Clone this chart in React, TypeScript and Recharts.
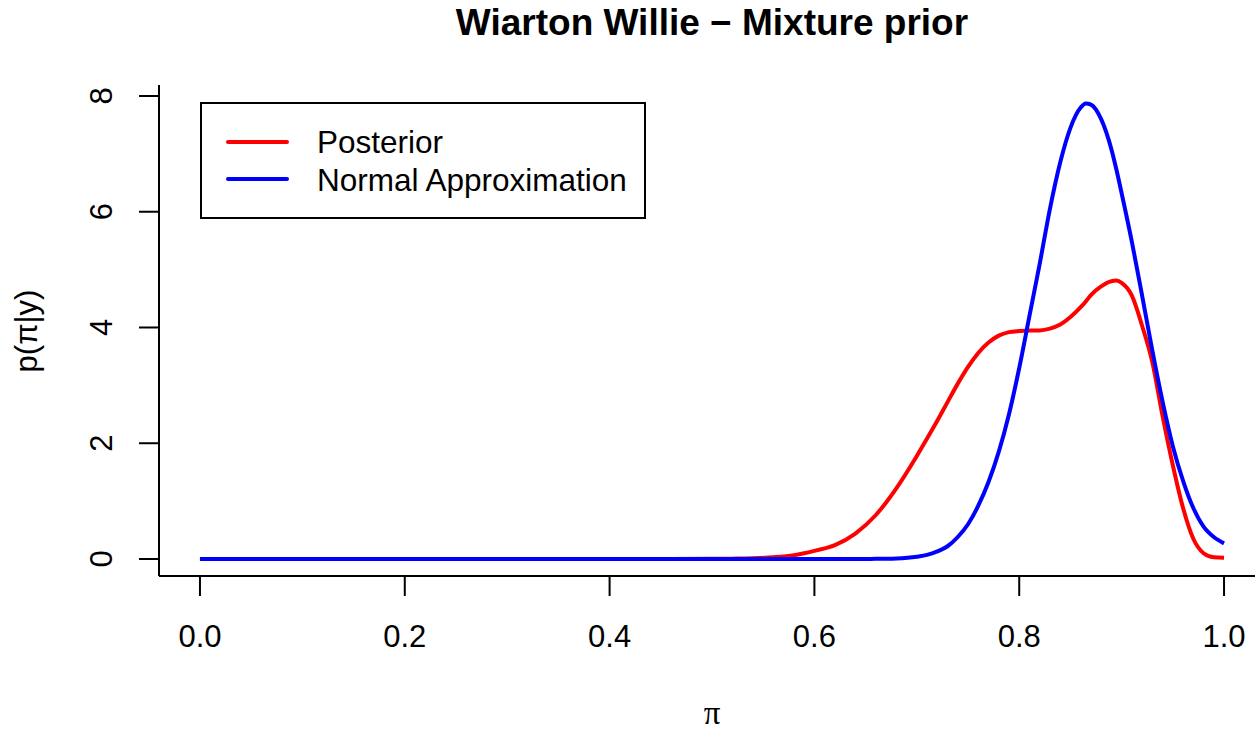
import { LineChart, Line, XAxis, YAxis } from 'recharts'

// pi grid shared by both curves
const PI_GRID = [
  0, 0.1, 0.2, 0.3, 0.4, 0.45, 0.5, 0.52, 0.54, 0.56, 0.58, 0.6, 0.62, 0.64, 0.66, 0.68,
  0.7, 0.71, 0.72, 0.73, 0.74, 0.75, 0.76, 0.77, 0.78, 0.79, 0.8, 0.81, 0.82, 0.83, 0.84,
  0.85, 0.86, 0.865, 0.87, 0.88, 0.89, 0.895, 0.9, 0.91, 0.92, 0.93, 0.94, 0.95, 0.96,
  0.97, 0.98, 0.99, 1.0,
]

const POSTERIOR = [
  0, 0, 0, 0, 0, 0.001, 0.003, 0.006, 0.012, 0.03, 0.065, 0.14, 0.24, 0.44, 0.76, 1.22,
  1.78, 2.08, 2.39, 2.71, 3.03, 3.32, 3.56, 3.74, 3.86, 3.92, 3.94, 3.95, 3.95, 3.98, 4.05,
  4.18, 4.35, 4.45, 4.56, 4.71, 4.8, 4.81, 4.77, 4.55, 4.03, 3.4, 2.47, 1.62, 0.88,
  0.35, 0.1, 0.03, 0.02,
]

const NORMAL_APPROX = [
  0, 0, 0, 0, 0, 0, 0, 0, 0, 0, 0, 0, 0, 0, 0.002, 0.01,
  0.04, 0.07, 0.13, 0.22, 0.38, 0.6, 0.92, 1.33, 1.85, 2.5, 3.3, 4.2, 5.1, 6.05, 6.85,
  7.45, 7.8, 7.87, 7.85, 7.6, 7.08, 6.72, 6.32, 5.48, 4.55, 3.6, 2.72, 1.95, 1.35,
  0.88, 0.56, 0.38, 0.27,
]

const X_TICKS = [0, 0.2, 0.4, 0.6, 0.8, 1.0]
const Y_TICKS = [0, 2, 4, 6, 8]

const data = PI_GRID.map((pi, i) => ({ pi, posterior: POSTERIOR[i], normal: NORMAL_APPROX[i] }))

const FONT = '"Liberation Sans", Arial, Helvetica, sans-serif'

const XTick = ({ x, y, payload }: any) => (
  <text x={x} y={y} dy="0.71em" textAnchor="middle" fontSize={31} fontFamily={FONT} fill="#000">
    {payload.value.toFixed(1)}
  </text>
)

const YTick = ({ x, y, payload }: any) => (
  <text x={x} y={y} transform={`rotate(-90, ${x}, ${y})`} textAnchor="middle" fontSize={31} fontFamily={FONT} fill="#000">
    {payload.value}
  </text>
)

export default function App() {
  return (
    <div style={{ position: 'absolute', left: 0, top: 0, width: 1255, height: 732, overflow: 'hidden', background: '#fff' }}>
      <LineChart width={1300} height={732} data={data} margin={{ top: 85, right: 35, left: 99, bottom: 76 }}>
        <XAxis
          dataKey="pi"
          type="number"
          domain={[-0.04, 1.04]}
          ticks={X_TICKS}
          height={80}
          tickSize={20}
          tickMargin={29}
          tick={<XTick />}
          axisLine={{ stroke: '#000', strokeWidth: 2 }}
          tickLine={{ stroke: '#000', strokeWidth: 2 }}
          allowDataOverflow
        />
        <XAxis
          xAxisId="top"
          dataKey="pi"
          type="number"
          orientation="top"
          domain={[-0.04, 1.04]}
          height={0}
          tick={false}
          tickLine={false}
          axisLine={{ stroke: '#000', strokeWidth: 2 }}
        />
        <YAxis
          type="number"
          domain={[-0.294, 8.19]}
          ticks={Y_TICKS}
          width={60}
          tickSize={20}
          tickMargin={27}
          tick={<YTick />}
          axisLine={{ stroke: '#000', strokeWidth: 2 }}
          tickLine={{ stroke: '#000', strokeWidth: 2 }}
          allowDataOverflow
        />
        <Line dataKey="posterior" type="monotone" stroke="#ff0000" strokeWidth={4} dot={false} isAnimationActive={false} />
        <Line dataKey="normal" type="monotone" stroke="#0000ff" strokeWidth={4} dot={false} isAnimationActive={false} />
      </LineChart>

      <svg width={1255} height={732} style={{ position: 'absolute', left: 0, top: 0, pointerEvents: 'none' }}>
        <text x={712} y={35} textAnchor="middle" fontSize={37} fontWeight="bold" fontFamily={FONT}>
          Wiarton Willie − Mixture prior
        </text>
        <text x={712} y={724} textAnchor="middle" fontSize={33} fontFamily='"Liberation Serif", "Times New Roman", serif'>
          π
        </text>
        <text x={37} y={331} transform="rotate(-90, 37, 331)" textAnchor="middle" fontSize={31} fontFamily={FONT}>
          p(π|y)
        </text>
        <rect x={201} y={103} width={444} height={115} fill="#fff" stroke="#000" strokeWidth={2} />
        <line x1={228} y1={142} x2={287} y2={142} stroke="#ff0000" strokeWidth={4} strokeLinecap="round" />
        <line x1={228} y1={179} x2={287} y2={179} stroke="#0000ff" strokeWidth={4} strokeLinecap="round" />
        <text x={317} y={153} fontSize={31.5} fontFamily={FONT}>Posterior</text>
        <text x={317} y={190.5} fontSize={31.5} fontFamily={FONT}>Normal Approximation</text>
      </svg>
    </div>
  )
}
